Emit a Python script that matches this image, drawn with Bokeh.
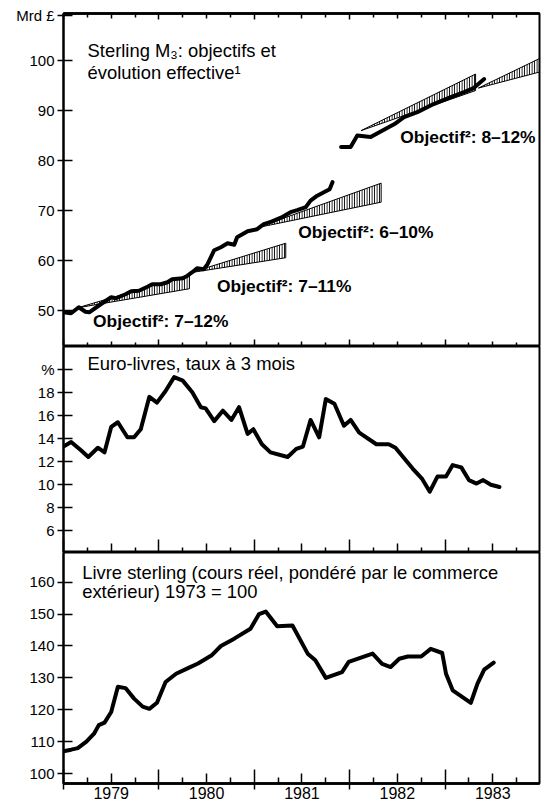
from bokeh.plotting import figure
from bokeh.models import Range1d, LinearAxis, FixedTicker, Label
from bokeh.layouts import column
from bokeh.embed import file_html
from bokeh.resources import INLINE

# ---------------- data ----------------
years = [1979, 1980, 1981, 1982, 1983]

# Sterling M3 (Mrd £), old series
m3_old_x = [1979.00, 1979.08, 1979.16, 1979.23, 1979.27, 1979.39, 1979.50, 1979.55, 1979.65, 1979.71,
            1979.79, 1979.88, 1979.93, 1980.02, 1980.09, 1980.14, 1980.25, 1980.30, 1980.35, 1980.40,
            1980.47, 1980.51, 1980.58, 1980.65, 1980.72, 1980.79, 1980.82, 1980.93, 1981.03, 1981.10,
            1981.18, 1981.28, 1981.38, 1981.45, 1981.54, 1981.59, 1981.66, 1981.73, 1981.79, 1981.82]
m3_old_y = [49.7, 49.5, 50.7, 49.8, 49.7, 51.3, 52.7, 52.5, 53.3, 53.9,
            54.0, 54.8, 55.3, 55.3, 55.7, 56.3, 56.5, 57.0, 57.7, 58.5,
            58.3, 59.3, 62.1, 62.7, 63.5, 63.2, 64.7, 65.9, 66.3, 67.3,
            67.8, 68.6, 69.7, 70.1, 70.7, 72.0, 73.0, 73.7, 74.3, 75.7]
# Sterling M3, new series
m3_new_x = [1981.91, 1982.01, 1982.08, 1982.22, 1982.47, 1982.57, 1982.71, 1982.88, 1983.06, 1983.20,
            1983.30, 1983.41]
m3_new_y = [82.7, 82.7, 85.0, 84.7, 87.3, 88.7, 89.7, 91.3, 92.7, 93.7,
            94.5, 96.3]

# target bands (start point, end lower / upper)
band_names = ["7–12%", "7–11%", "6–10%", "8–12%", ""]
band_start_x = [1979.15, 1980.33, 1981.03, 1982.12, 1983.35]
band_start_y = [50.6, 57.6, 66.6, 86.0, 94.5]
band_end_x = [1980.32, 1981.33, 1982.33, 1983.32, 1983.99]
band_end_low = [54.4, 60.6, 71.7, 94.0, 97.7]
band_end_high = [57.2, 63.5, 75.5, 97.3, 100.4]

# Euro-sterling 3-month rate (%)
rate_x = [1979.00, 1979.08, 1979.18, 1979.26, 1979.36, 1979.43, 1979.50, 1979.57, 1979.67, 1979.74,
          1979.81, 1979.90, 1979.98, 1980.07, 1980.16, 1980.25, 1980.35, 1980.44, 1980.49, 1980.58,
          1980.67, 1980.76, 1980.84, 1980.93, 1980.99, 1981.08, 1981.17, 1981.35, 1981.44, 1981.51,
          1981.59, 1981.68, 1981.75, 1981.84, 1981.94, 1982.01, 1982.10, 1982.28, 1982.41, 1982.48,
          1982.66, 1982.76, 1982.84, 1982.92, 1983.01, 1983.08, 1983.17, 1983.25, 1983.33, 1983.40,
          1983.48, 1983.57]
rate_y = [13.3, 13.7, 13.0, 12.4, 13.2, 12.8, 15.0, 15.4, 14.1, 14.1,
          14.8, 17.6, 17.1, 18.1, 19.3, 19.0, 18.0, 16.7, 16.6, 15.5,
          16.4, 15.6, 16.7, 14.4, 14.8, 13.5, 12.8, 12.4, 13.1, 13.3,
          15.6, 14.1, 17.4, 17.0, 15.1, 15.6, 14.5, 13.5, 13.5, 13.2,
          11.4, 10.5, 9.4, 10.7, 10.7, 11.7, 11.5, 10.4, 10.1, 10.4,
          10.0, 9.8]

# Real effective sterling exchange rate (1973 = 100)
gbp_x = [1979.00, 1979.08, 1979.15, 1979.24, 1979.32, 1979.37, 1979.43, 1979.50, 1979.57, 1979.65,
         1979.74, 1979.83, 1979.90, 1979.98, 1980.07, 1980.18, 1980.30, 1980.41, 1980.55, 1980.65,
         1980.79, 1980.96, 1981.05, 1981.12, 1981.24, 1981.40, 1981.56, 1981.64, 1981.75, 1981.92,
         1981.99, 1982.24, 1982.34, 1982.43, 1982.52, 1982.61, 1982.75, 1982.85, 1982.97, 1983.01,
         1983.08, 1983.27, 1983.34, 1983.41, 1983.51]
gbp_y = [107.0, 107.5, 108.0, 110.0, 112.5, 115.2, 116.0, 119.3, 127.2, 126.8,
         123.5, 121.0, 120.3, 122.2, 128.7, 131.3, 133.0, 134.5, 137.0, 140.0,
         142.3, 145.4, 150.0, 150.8, 146.2, 146.4, 137.6, 135.5, 130.0, 131.8,
         135.0, 137.6, 134.4, 133.4, 136.0, 136.7, 136.7, 139.1, 137.8, 131.3,
         126.1, 122.2, 128.2, 132.6, 134.8]

m3_ticks = [50, 60, 70, 80, 90, 100]
m3_unit = "Mrd £"
rate_ticks = [6, 8, 10, 12, 14, 16, 18, 20]
rate_unit = "%"
gbp_ticks = [100, 110, 120, 130, 140, 150, 160]

# ---------------- styling helpers ----------------
FONT = "Liberation Sans"
year_starts = years + [years[-1] + 1]
quarter_pos = [y + q / 4 for y in years for q in (1, 3)]
mid_years = [y + 0.5 for y in years]


def panel(y0, y1, frame_h, top_border, ticks, overrides=None):
    p = figure(frame_width=476, frame_height=frame_h,
               x_range=Range1d(1979.0, 1983.99), y_range=Range1d(y0, y1),
               x_axis_location=None, y_axis_location="left",
               output_backend="svg", toolbar_location=None,
               min_border_left=63, min_border_right=3,
               min_border_top=top_border, min_border_bottom=0)
    p.outline_line_color = "black"
    p.outline_line_width = 2
    p.outline_line_alpha = 1
    p.background_fill_color = "white"
    p.border_fill_color = "white"
    p.xgrid.visible = False
    p.ygrid.visible = False
    ax = p.yaxis[0]
    ax.ticker = FixedTicker(ticks=ticks)
    ax.axis_line_width = 2
    ax.major_tick_in = 9
    ax.major_tick_out = 6
    ax.major_tick_line_width = 1.5
    ax.minor_tick_line_color = None
    ax.major_label_standoff = 3
    ax.major_label_text_font = FONT
    ax.major_label_text_font_size = "15px"
    ax.major_label_text_color = "black"
    if overrides:
        ax.major_label_overrides = overrides
    return p


def tick_axis(positions, tin, tout=0):
    # axis carrying only (unlabelled) tick marks
    ax = LinearAxis(ticker=FixedTicker(ticks=[], minor_ticks=positions))
    ax.axis_line_width = 2
    ax.major_tick_in = 0
    ax.major_tick_out = 0
    ax.major_tick_line_color = None
    ax.minor_tick_in = tin
    ax.minor_tick_out = tout
    ax.minor_tick_line_width = 1.5
    ax.minor_tick_line_color = "black"
    ax.major_label_standoff = 0
    return ax


def add_time_ticks(p, side, q, m, y, y_out=0):
    p.add_layout(tick_axis(quarter_pos, q), side)
    p.add_layout(tick_axis(mid_years, m), side)
    p.add_layout(tick_axis(year_starts, y, y_out), side)


def text(p, x, y, s, size="18.4px", style="normal"):
    p.add_layout(Label(x=x, y=y, text=s, text_font=FONT, text_font_size=size,
                       text_font_style=style, text_align="left", text_baseline="middle",
                       text_color="black"))


# ---------------- top panel: Sterling M3 ----------------
p1 = panel(42.86, 109.4, 333, 13, m3_ticks + [109], {109: m3_unit})
add_time_ticks(p1, "above", 4, 5, 6)
add_time_ticks(p1, "below", 4, 5, 7)

band_xs = [[x0, x1, x1] for x0, x1 in zip(band_start_x, band_end_x)]
band_ys = [[y0, lo, hi] for y0, lo, hi in zip(band_start_y, band_end_low, band_end_high)]
p1.patches(band_xs, band_ys, fill_color=None, line_color="black", line_width=1,
           hatch_pattern="vertical_line", hatch_scale=2.5, hatch_weight=1.2, hatch_color="black")
p1.line(m3_old_x, m3_old_y, line_width=4, line_color="black", line_join="round", line_cap="round")
p1.line(m3_new_x, m3_new_y, line_width=4, line_color="black", line_join="round", line_cap="round")

text(p1, 1979.252, 102.0, "Sterling M₃: objectifs et")
text(p1, 1979.252, 97.6, "évolution effective¹")
label_pos = [(1979.31, 48.0), (1980.61, 55.0), (1981.46, 65.7), (1982.53, 84.7)]
for name, (lx, ly) in zip(band_names, label_pos):
    text(p1, lx, ly, "Objectif²: " + name, size="17.4px", style="bold")

# ---------------- middle panel: Euro-sterling rate ----------------
p2 = panel(4.14, 21.95, 206, 0, rate_ticks, {20: rate_unit})
add_time_ticks(p2, "below", 5, 9, 13)
p2.line(rate_x, rate_y, line_width=4, line_color="black", line_join="round", line_cap="round")
text(p2, 1979.252, 20.5, "Euro-livres, taux à 3 mois")

# ---------------- bottom panel: real sterling ----------------
p3 = panel(96.9, 169.3, 231, 0, gbp_ticks)
add_time_ticks(p3, "below", 6, 10, 14, 6)
lab_ax = LinearAxis(ticker=FixedTicker(ticks=mid_years))
lab_ax.axis_line_color = None
lab_ax.major_tick_in = 0
lab_ax.major_tick_out = 0
lab_ax.major_tick_line_color = None
lab_ax.minor_tick_line_color = None
lab_ax.major_label_standoff = -3
lab_ax.major_label_text_font = FONT
lab_ax.major_label_text_font_size = "16px"
lab_ax.major_label_text_color = "black"
lab_ax.major_label_overrides = {m: str(y) for m, y in zip(mid_years, years)}
p3.add_layout(lab_ax, "below")
p3.line(gbp_x, gbp_y, line_width=4, line_color="black", line_join="round", line_cap="round")
text(p3, 1979.196, 162.9, "Livre sterling (cours réel, pondéré par le commerce")
text(p3, 1979.196, 157.1, "extérieur) 1973 = 100")

layout = column(p1, p2, p3, spacing=0)
open("out.html", "w").write(file_html(layout, INLINE))
